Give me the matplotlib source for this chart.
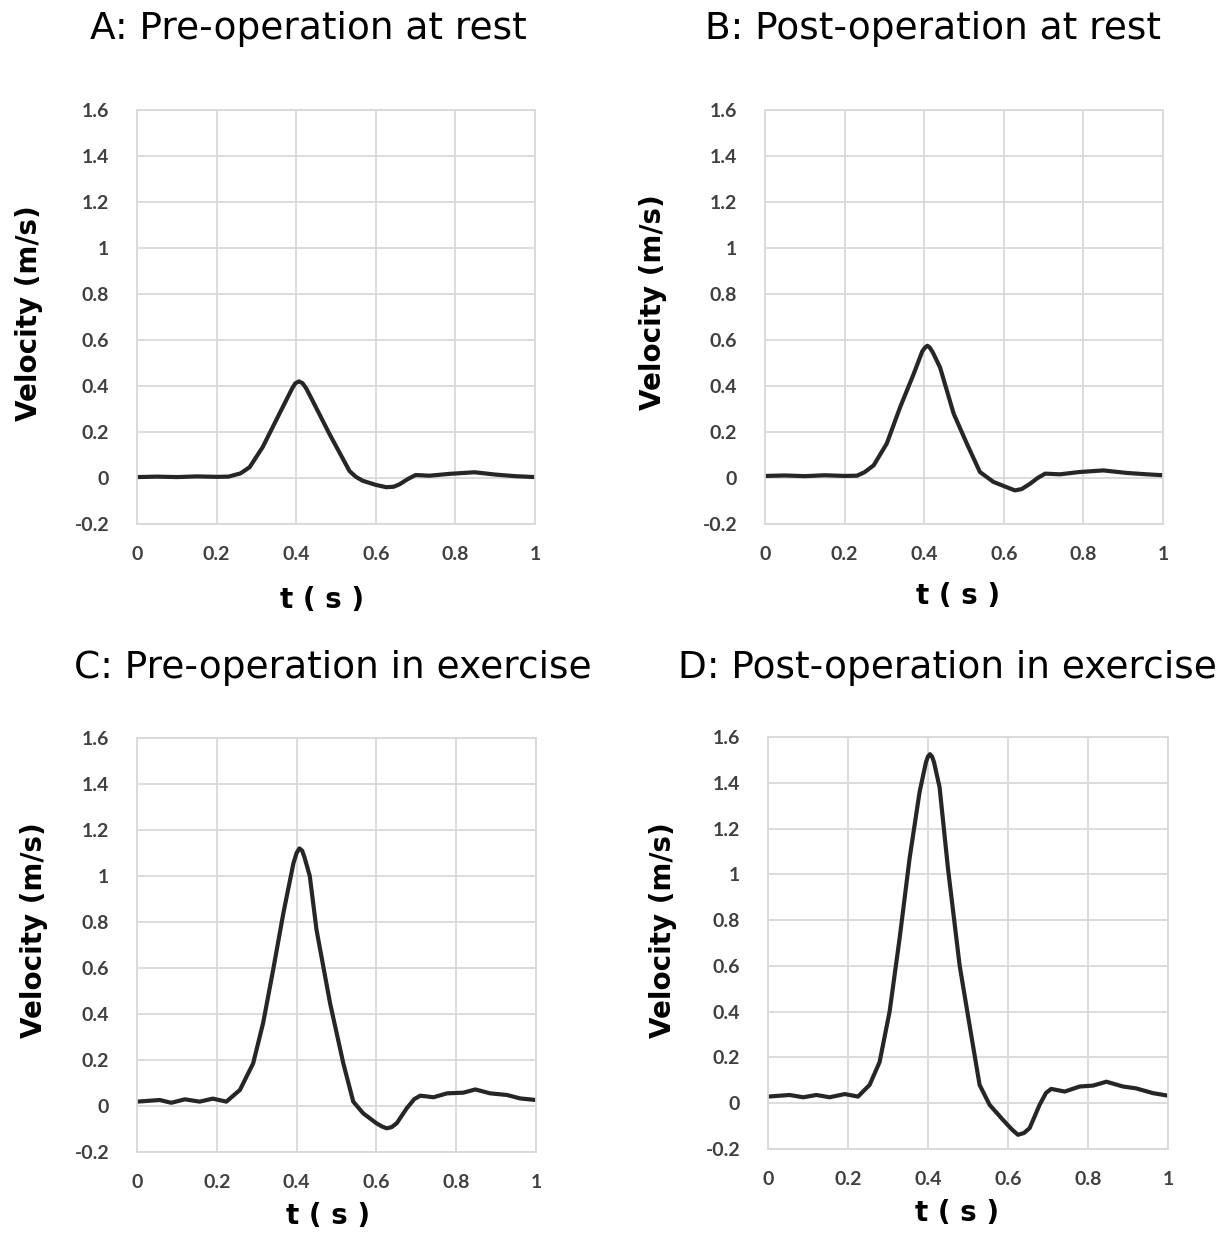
import matplotlib.pyplot as plt


W, H = 1223, 1237
dpi = 100

t_a = [0.0, 0.05, 0.1, 0.15, 0.2, 0.23, 0.26, 0.283, 0.316, 0.358, 0.39, 0.398,
       0.407, 0.416, 0.425, 0.44, 0.484, 0.534, 0.55, 0.567, 0.6, 0.626, 0.645,
       0.66, 0.68, 0.70, 0.735, 0.785, 0.848, 0.90, 0.95, 1.0]
v_a = [0.004, 0.006, 0.004, 0.007, 0.005, 0.006, 0.02, 0.047, 0.135, 0.28, 0.39, 0.412,
       0.42, 0.412, 0.39, 0.34, 0.19, 0.03, 0.005, -0.012, -0.03, -0.04, -0.038,
       -0.027, -0.005, 0.013, 0.01, 0.018, 0.025, 0.015, 0.008, 0.004]

t_b = [0.0, 0.05, 0.1, 0.15, 0.2, 0.231, 0.25, 0.273, 0.306, 0.34, 0.373, 0.395,
       0.402, 0.408, 0.414, 0.422, 0.44, 0.474, 0.507, 0.54, 0.574, 0.6, 0.628,
       0.645, 0.666, 0.685, 0.704, 0.741, 0.79, 0.85, 0.909, 0.96, 1.0]
v_b = [0.009, 0.011, 0.008, 0.012, 0.009, 0.01, 0.025, 0.055, 0.15, 0.31, 0.45, 0.55,
       0.567, 0.575, 0.567, 0.545, 0.48, 0.28, 0.15, 0.026, -0.017, -0.035, -0.054,
       -0.048, -0.025, 0.0, 0.019, 0.016, 0.026, 0.033, 0.022, 0.016, 0.012]

t_c = [0.0, 0.057, 0.086, 0.12, 0.157, 0.19, 0.224, 0.258, 0.291, 0.316, 0.341,
       0.367, 0.392, 0.4, 0.407, 0.414, 0.42, 0.433, 0.45, 0.484, 0.517, 0.542,
       0.567, 0.60, 0.615, 0.626, 0.638, 0.651, 0.676, 0.695, 0.71, 0.743, 0.777,
       0.818, 0.848, 0.885, 0.927, 0.96, 1.0]
v_c = [0.019, 0.026, 0.014, 0.029, 0.019, 0.032, 0.019, 0.07, 0.185, 0.36, 0.59,
       0.84, 1.055, 1.10, 1.12, 1.11, 1.08, 1.0, 0.765, 0.446, 0.186, 0.019,
       -0.032, -0.075, -0.09, -0.097, -0.092, -0.075, -0.01, 0.03, 0.045, 0.038, 0.055,
       0.058, 0.072, 0.055, 0.048, 0.033, 0.026]

t_d = [0.0, 0.054, 0.088, 0.121, 0.154, 0.192, 0.225, 0.254, 0.279, 0.304, 0.329,
       0.354, 0.379, 0.395, 0.40, 0.405, 0.41, 0.415, 0.429, 0.45, 0.479, 0.504,
       0.529, 0.554, 0.5875, 0.61, 0.625, 0.64, 0.654, 0.679, 0.695, 0.708, 0.742,
       0.779, 0.8125, 0.846, 0.8875, 0.92, 0.9625, 1.0]
v_d = [0.029, 0.036, 0.026, 0.036, 0.026, 0.04, 0.029, 0.08, 0.18, 0.4, 0.72,
       1.07, 1.36, 1.49, 1.515, 1.525, 1.515, 1.49, 1.38, 1.025, 0.603, 0.34,
       0.08, -0.007, -0.073, -0.115, -0.138, -0.13, -0.109, -0.007, 0.045, 0.0625,
       0.051, 0.073, 0.077, 0.094, 0.073, 0.065, 0.044, 0.033]

titles = ['A: Pre-operation at rest', 'B: Post-operation at rest',
          'C: Pre-operation in exercise', 'D: Post-operation in exercise']
x_ticks = [0, 0.2, 0.4, 0.6, 0.8, 1]
x_tick_labels = ['0', '0.2', '0.4', '0.6', '0.8', '1']
y_ticks = [-0.2, 0, 0.2, 0.4, 0.6, 0.8, 1, 1.2, 1.4, 1.6]
y_tick_labels = ['-0.2', '0', '0.2', '0.4', '0.6', '0.8', '1', '1.2', '1.4', '1.6']

# panel layout in pixels: axes box (left, top, right, bottom), title xy, xlabel xy, ylabel xy
panels = [
    ((137, 110, 535, 524), (308, 29), (322, 600), (29, 313)),
    ((765, 110, 1163, 524), (933, 29), (958, 596), (653, 302)),
    ((137, 738, 536, 1152), (333, 668), (328, 1216), (34, 930)),
    ((768, 737, 1168, 1149), (947, 668), (957, 1213), (663, 930)),
]
curves = [(t_a, v_a), (t_b, v_b), (t_c, v_c), (t_d, v_d)]

grid_color = '#d9d9d9'
tick_color = '#404040'

fig = plt.figure(figsize=(W / dpi, H / dpi), dpi=dpi)

for (box, title_xy, xl_xy, yl_xy), (t, v), title in zip(panels, curves, titles):
    left, top, right, bottom = box
    ax = fig.add_axes([left / W, 1 - bottom / H, (right - left) / W, (bottom - top) / H])
    ax.plot(t, v, color='#262626', linewidth=3.0, solid_joinstyle='round')
    ax.set_xlim(0, 1)
    ax.set_ylim(-0.2, 1.6)
    ax.set_xticks(x_ticks)
    ax.set_xticklabels(x_tick_labels)
    ax.set_yticks(y_ticks)
    ax.set_yticklabels(y_tick_labels)
    ax.grid(True, color=grid_color, linewidth=1.3)
    ax.set_axisbelow(True)
    for spine in ax.spines.values():
        spine.set_color(grid_color)
        spine.set_linewidth(1.3)
    ax.tick_params(length=0, labelsize=14, labelcolor=tick_color)
    ax.tick_params(axis='y', pad=20)
    ax.tick_params(axis='x', pad=16)
    for lab in ax.get_xticklabels() + ax.get_yticklabels():
        lab.set_fontfamily('Lato')
        lab.set_fontweight('bold')

    fig.text(title_xy[0] / W, 1 - title_xy[1] / H, title, ha='center', va='center',
             fontsize=27, family='DejaVu Sans')
    fig.text(xl_xy[0] / W, 1 - xl_xy[1] / H, 't ( s )', ha='center', va='center',
             fontsize=20, fontweight='bold', family='DejaVu Sans')
    fig.text(yl_xy[0] / W, 1 - yl_xy[1] / H, 'Velocity (m/s)', ha='center', va='center',
             rotation=90, fontsize=20, fontweight='bold', family='DejaVu Sans')

fig.savefig('out.png', dpi=dpi)
